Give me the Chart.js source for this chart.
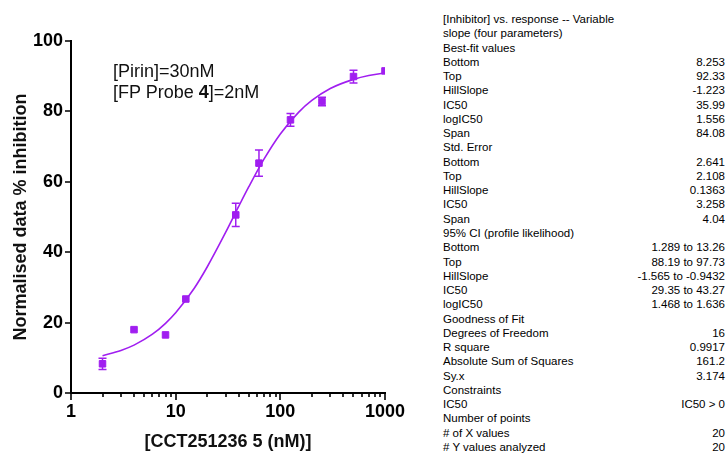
<!DOCTYPE html>
<html>
<head>
<meta charset="utf-8">
<script src="https://cdn.jsdelivr.net/npm/chart.js@4.4.1/dist/chart.umd.min.js"></script>
<style>
  html, body { margin: 0; padding: 0; background: #ffffff; }
  body { width: 727px; height: 453px; position: relative; overflow: hidden; font-family: "Liberation Sans", Arial, sans-serif; }
  #chartBox { position: absolute; left: 0; top: 0; width: 420px; height: 453px; }
  #note { position: absolute; left: 113px; top: 61px; font-size: 18px; line-height: 21px; color: #111; }
  #fitTable { position: absolute; left: 443px; top: 12px; width: 282px; border-collapse: collapse; font-size: 11.5px; color: #000; }
  #fitTable td { padding: 0; height: 14.27px; line-height: 14.27px; white-space: nowrap; }
  #fitTable td.v { text-align: right; }
</style>
</head>
<body>
<div id="chartBox"><canvas id="doseChart" width="420" height="453"></canvas></div>
<div id="note">[Pirin]=30nM<br>[FP Probe <b>4</b>]=2nM</div>
<table id="fitTable"><tbody id="fitBody"></tbody></table>

<script>
/* ---------- データ ---------- */
// 測定点（濃度 nM、平均 % 阻害、誤差）
var CONC = [2, 4, 8, 12.5, 37.5, 62.5, 125, 250, 500, 1000];
var MEAN = [8.3, 18.0, 16.5, 26.7, 50.6, 65.3, 77.6, 82.8, 89.9, 91.5];
var ERR  = [1.6, 0.4, 0.4, 0.6, 3.3, 3.7, 1.8, 1.2, 1.8, 0.2];

// フィット曲線
var CURVE_X = [2, 3, 4, 6, 8, 10, 15, 20, 30, 40, 50, 70, 100, 150, 200, 300, 500, 700, 1000];
var CURVE_Y = [10.6, 12.1, 13.6, 16.7, 19.8, 22.8, 29.7, 35.8, 45.6, 53.0, 58.6, 66.5, 73.6, 79.8, 83.1, 86.5, 89.1, 90.2, 90.9];

// 軸目盛
var X_TICKS = [1, 10, 100, 1000];
var Y_TICKS = [0, 20, 40, 60, 80, 100];

// 右側の結果表
var FIT_LABELS = [
  "[Inhibitor] vs. response -- Variable", "slope (four parameters)", "Best-fit values",
  "Bottom", "Top", "HillSlope", "IC50", "logIC50", "Span",
  "Std. Error", "Bottom", "Top", "HillSlope", "IC50", "Span",
  "95% CI (profile likelihood)", "Bottom", "Top", "HillSlope", "IC50", "logIC50",
  "Goodness of Fit", "Degrees of Freedom", "R square", "Absolute Sum of Squares", "Sy.x",
  "Constraints", "IC50", "Number of points", "# of X values", "# Y values analyzed"
];
var FIT_VALUES = [
  "", "", "",
  "8.253", "92.33", "-1.223", "35.99", "1.556", "84.08",
  "", "2.641", "2.108", "0.1363", "3.258", "4.04",
  "", "1.289 to 13.26", "88.19 to 97.73", "-1.565 to -0.9432", "29.35 to 43.27", "1.468 to 1.636",
  "", "16", "0.9917", "161.2", "3.174",
  "", "IC50 > 0", "", "20", "20"
];

(function () {
  var PURPLE = "#A01EF0";
  var FONT = '"Liberation Sans", Arial, sans-serif';
  var MARKER_HALF = 3.8; // 四角マーカーの半幅（px）

  /* ---------- 結果表 ---------- */
  function buildTable() {
    var tbody = document.getElementById("fitBody");
    FIT_LABELS.forEach(function (label, i) {
      var tr = document.createElement("tr");
      var a = document.createElement("td");
      a.textContent = label;
      var b = document.createElement("td");
      b.className = "v";
      b.textContent = FIT_VALUES[i];
      tr.appendChild(a);
      tr.appendChild(b);
      tbody.appendChild(tr);
    });
  }

  /* ---------- 誤差棒 ---------- */
  var errorBars = {
    id: "errorBars",
    beforeDatasetsDraw: function (chart) {
      var xs = chart.scales.x, ys = chart.scales.y, c = chart.ctx;
      c.save();
      c.strokeStyle = PURPLE;
      c.lineWidth = 1.5;
      CONC.forEach(function (x, i) {
        var px = xs.getPixelForValue(x);
        var mid = ys.getPixelForValue(MEAN[i]);
        var top = ys.getPixelForValue(MEAN[i] + ERR[i]);
        var bot = ys.getPixelForValue(MEAN[i] - ERR[i]);
        // マーカーに隠れる誤差棒は描かない
        if (mid - top < MARKER_HALF) return;
        c.beginPath();
        c.moveTo(px, top); c.lineTo(px, bot);
        c.moveTo(px - 4, top); c.lineTo(px + 4, top);
        c.moveTo(px - 4, bot); c.lineTo(px + 4, bot);
        c.stroke();
      });
      c.restore();
    }
  };

  /* ---------- 目盛線 ---------- */
  var tickMarks = {
    id: "tickMarks",
    afterDraw: function (chart) {
      var xs = chart.scales.x, ys = chart.scales.y, c = chart.ctx;
      var area = chart.chartArea;
      c.save();
      c.strokeStyle = "#000";
      c.lineWidth = 1.6;
      c.beginPath();
      Y_TICKS.forEach(function (v) {
        var py = Math.round(ys.getPixelForValue(v));
        c.moveTo(area.left - 6, py); c.lineTo(area.left, py);
      });
      X_TICKS.forEach(function (v) {
        var px = Math.round(xs.getPixelForValue(v));
        c.moveTo(px, area.bottom); c.lineTo(px, area.bottom + 7);
      });
      for (var d = 1; d < 1000; d *= 10) {
        for (var k = 2; k <= 9; k++) {
          var mx = Math.round(xs.getPixelForValue(d * k));
          c.moveTo(mx, area.bottom); c.lineTo(mx, area.bottom + 4);
        }
      }
      c.stroke();
      c.restore();
    }
  };

  /* ---------- グラフ ---------- */
  function initChart() {
    var points = CONC.map(function (x, i) { return { x: x, y: MEAN[i] }; });
    var curve = CURVE_X.map(function (x, i) { return { x: x, y: CURVE_Y[i] }; });
    var tickFont = { family: FONT, size: 18, weight: "bold" };

    new Chart(document.getElementById("doseChart"), {
      type: "scatter",
      data: {
        datasets: [
          {
            label: "fit",
            data: curve,
            showLine: true,
            borderColor: PURPLE,
            borderWidth: 1.6,
            pointRadius: 0,
            cubicInterpolationMode: "monotone"
          },
          {
            label: "data",
            data: points,
            pointStyle: "rect",
            pointRadius: 4.6,
            borderWidth: 1,
            backgroundColor: PURPLE,
            borderColor: PURPLE
          }
        ]
      },
      options: {
        responsive: false,
        animation: false,
        layout: { padding: { left: 0, top: 41, right: 35, bottom: 0 } },
        plugins: { legend: { display: false }, tooltip: { enabled: false } },
        scales: {
          x: {
            type: "logarithmic",
            min: 1,
            max: 1000,
            afterBuildTicks: function (s) {
              s.ticks = X_TICKS.map(function (v) { return { value: v }; });
            },
            afterFit: function (s) { s.height = 60; },
            ticks: {
              autoSkip: false,
              maxRotation: 0,
              padding: 8,
              color: "#000",
              font: tickFont,
              callback: function (v) { return String(v); }
            },
            grid: { display: false, drawTicks: false },
            border: { display: true, color: "#000", width: 2 },
            title: {
              display: true,
              text: "[CCT251236 5 (nM)]",
              color: "#111",
              font: tickFont,
              padding: { top: 7, bottom: 0 }
            }
          },
          y: {
            min: 0,
            max: 100,
            afterBuildTicks: function (s) {
              s.ticks = Y_TICKS.map(function (v) { return { value: v }; });
            },
            afterFit: function (s) { s.width = 71; },
            ticks: { padding: 8, color: "#000", font: tickFont },
            grid: { display: false, drawTicks: false },
            border: { display: true, color: "#000", width: 2 },
            title: {
              display: true,
              text: "Normalised data % inhibition",
              color: "#111",
              font: tickFont,
              padding: { top: 10, bottom: 0 }
            }
          }
        }
      },
      plugins: [errorBars, tickMarks]
    });
  }

  function init() {
    buildTable();
    if (typeof Chart !== "undefined") initChart();
  }

  if (document.readyState === "loading") {
    document.addEventListener("DOMContentLoaded", init);
  } else {
    init();
  }
})();
</script>
</body>
</html>
